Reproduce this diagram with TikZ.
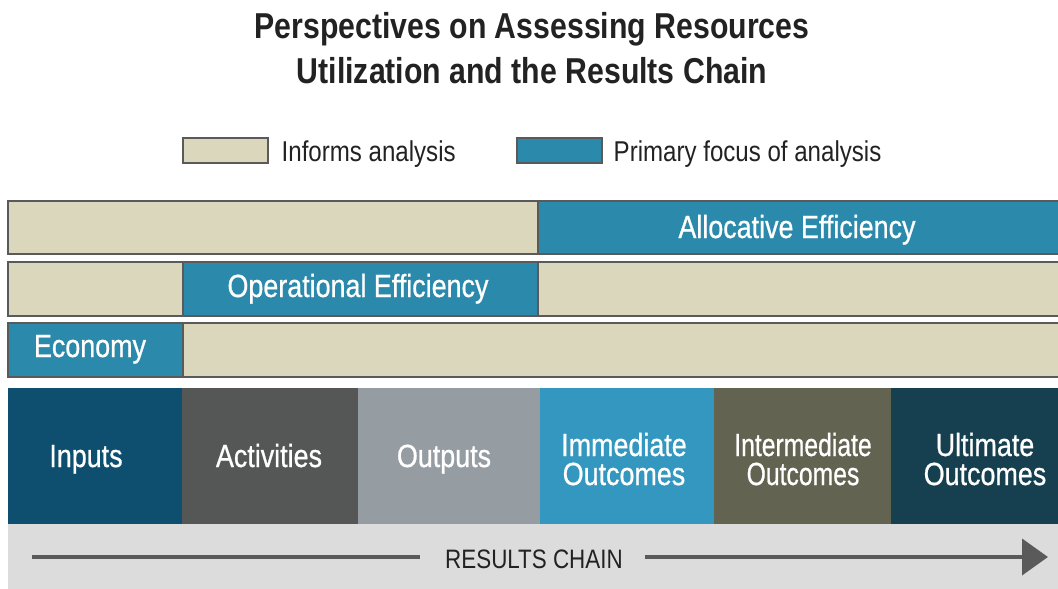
\documentclass[tikz,border=0pt]{standalone}
\usepackage{fontspec}
\setmainfont[FakeStretch=0.84]{Liberation Sans}
\newfontfamily\labelfont[FakeStretch=0.84,FakeBold=0.7]{Liberation Sans}
\usetikzlibrary{arrows.meta}
\definecolor{beige}{HTML}{DBD7BD}
\definecolor{focus}{HTML}{2B8AAB}
\definecolor{edge}{HTML}{5A5A5A}
\definecolor{cInputs}{HTML}{0E4F70}
\definecolor{cAct}{HTML}{555756}
\definecolor{cOut}{HTML}{959CA2}
\definecolor{cImm}{HTML}{3397BF}
\definecolor{cInt}{HTML}{626351}
\definecolor{cUlt}{HTML}{16404F}
\definecolor{band}{HTML}{DCDCDC}
\definecolor{ink}{HTML}{222222}
\begin{document}
\begin{tikzpicture}[x=0.75pt,y=-0.75pt,
  cell/.style={draw=edge,line width=0.9pt,anchor=north west,inner sep=0pt,outer sep=0pt},
  inform/.style={cell,fill=beige},
  primary/.style={cell,fill=focus},
  stage/.style={anchor=north west,inner sep=0pt,outer sep=0pt,minimum height=136*0.75pt},
  lbl/.style={text=white,align=center,inner sep=0pt,anchor=base,
    font=\labelfont\fontsize{24}{21.75}\selectfont},
  legtext/.style={anchor=west,text=ink,font=\fontsize{21.5}{24}\selectfont},
  chain/.style={draw=edge,line width=3pt}
]
\useasboundingbox (0,0) rectangle (1058,589);
\fill[white] (0,0) rectangle (1058,589);

% title
\node[text=ink,align=center,font=\fontsize{27}{33.5}\selectfont\bfseries] (title) at (532,48)
  {Perspectives on Assessing Resources\\Utilization and the Results Chain};

% legend
\node[inform,minimum width=85*0.75pt,minimum height=25*0.75pt] (leg1) at (183,138) {};
\node[legtext] (legt1) at (277,154) {Informs analysis};
\node[primary,minimum width=85*0.75pt,minimum height=25*0.75pt] (leg2) at (517,138) {};
\node[legtext] (legt2) at (609,154) {Primary focus of analysis};

% allocative efficiency row
\node[inform,minimum width=530*0.75pt,minimum height=53*0.75pt] (a1) at (8,201) {};
\node[primary,minimum width=522*0.75pt,minimum height=53*0.75pt] (a2) at (538,201) {};
\node[lbl] (a2t) at (797,238) {Allocative Efficiency};

% operational efficiency row
\node[inform,minimum width=175*0.75pt,minimum height=54*0.75pt] (o1) at (8,262) {};
\node[primary,minimum width=355*0.75pt,minimum height=54*0.75pt] (o2) at (183,262) {};
\node[lbl] (o2t) at (358,297) {Operational Efficiency};
\node[inform,minimum width=522*0.75pt,minimum height=54*0.75pt] (o3) at (538,262) {};

% economy row
\node[primary,minimum width=175*0.75pt,minimum height=54*0.75pt] (e1) at (8,323) {};
\node[lbl] (e1t) at (90,357) {Economy};
\node[inform,minimum width=877*0.75pt,minimum height=54*0.75pt] (e2) at (183,323) {};

% results chain stages
\node[stage,fill=cInputs,minimum width=174*0.75pt] (s1) at (8,388) {};
\node[stage,fill=cAct,minimum width=176*0.75pt] (s2) at (182,388) {};
\node[stage,fill=cOut,minimum width=182*0.75pt] (s3) at (358,388) {};
\node[stage,fill=cImm,minimum width=174*0.75pt] (s4) at (540,388) {};
\node[stage,fill=cInt,minimum width=177*0.75pt] (s5) at (714,388) {};
\node[stage,fill=cUlt,minimum width=167*0.75pt] (s6) at (891,388) {};
\node[lbl] (s1t) at (86,467) {Inputs};
\node[lbl] (s2t) at (269,467) {Activities};
\node[lbl] (s3t) at (444,467) {Outputs};
\node[lbl] (s4t) at (624,485) {Immediate\\Outcomes};
\node[lbl] (s5t) at (803,485) {\scalebox{0.92}[1]{Intermediate}\\\scalebox{0.92}[1]{Outcomes}};
\node[lbl] (s6t) at (985,485) {Ultimate\\Outcomes};

% results chain band
\node[anchor=north west,inner sep=0pt,fill=band,minimum width=1050*0.75pt,minimum height=65*0.75pt] (bandbox) at (8,524) {};
\node[text=ink,font=\fontsize{20}{22}\selectfont] (rc) at (534,559) {RESULTS CHAIN};
\coordinate (l0) at (32,557);
\coordinate (l1) at (420,557);
\coordinate (r0) at (645,557);
\coordinate (r1) at (1048,557);
\draw[chain] (l0) -- (l1);
\draw[chain,-{Triangle[length=26*0.75pt,width=36*0.75pt]},edge] (r0) -- (r1);
\end{tikzpicture}
\end{document}
